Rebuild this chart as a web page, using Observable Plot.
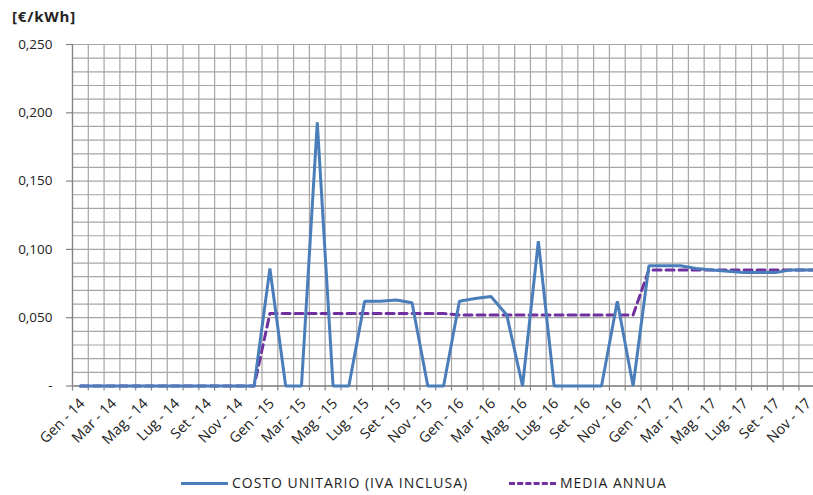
<!DOCTYPE html>
<html><head><meta charset="utf-8">
<script src="https://cdn.jsdelivr.net/npm/d3@7"></script>
<script src="https://cdn.jsdelivr.net/npm/@observablehq/plot@0.6"></script>
<style>
body{margin:0;background:#fff;overflow:hidden;}
#wrap{position:relative;width:813px;height:495px;overflow:hidden;font-family:"Open Sans",Lato,sans-serif;color:#222;}
#chart{position:absolute;left:0;top:0;}
#title{position:absolute;left:12px;top:6px;font-weight:bold;font-size:15px;letter-spacing:0.8px;}
.leg{position:absolute;top:473px;font-size:14px;letter-spacing:1px;line-height:20px;white-space:nowrap;display:flex;align-items:center;}
.sw{display:inline-block;width:47px;height:0;margin-right:4px;}
</style></head>
<body>
<div id="wrap">
<div id="chart"></div>
<div id="title">[€/kWh]</div>
<div class="leg" style="left:181px"><span class="sw" style="border-top:3px solid #4a7ebb"></span>COSTO UNITARIO (IVA INCLUSA)</div>
<div class="leg" style="left:509px"><span class="sw" style="border-top:3px dashed #7030a0;width:47px;"></span>MEDIA ANNUA</div>
</div>
<script>
const monthNames = ["Gen","Feb","Mar","Apr","Mag","Giu","Lug","Ago","Set","Ott","Nov","Dic"];
const years = ["14","15","16","17"];
const months = years.flatMap(y => monthNames.map(m => `${m} - ${y}`));

const costo = [
  0,0,0,0,0,0,0,0,0,0,0,0,
  0.086,0,0,0.193,0,0,0.062,0.062,0.063,0.061,0,0,
  0.062,0.064,0.0655,0.052,0,0.106,0,0,0,0,0.062,0,
  0.088,0.088,0.088,0.086,0.085,0.084,0.083,0.083,0.083,0.085,0.085,0.085
];
const media = [
  0,0,0,0,0,0,0,0,0,0,0,0,
  0.053,0.053,0.053,0.053,0.053,0.053,0.053,0.053,0.053,0.053,0.053,0.053,
  0.052,0.052,0.052,0.052,0.052,0.052,0.052,0.052,0.052,0.052,0.052,0.052,
  0.085,0.085,0.085,0.085,0.085,0.085,0.085,0.085,0.085,0.085,0.085,0.085
];
const yMajor = [0,0.05,0.10,0.15,0.20,0.25];
const yMinor = d3.range(0, 0.2501, 0.01);

const data = months.map((m,i)=>({i, m, costo: costo[i], media: media[i]}));
const bounds = d3.range(0, months.length + 1).map(i => i - 0.5);
const labelIdx = d3.range(0, months.length, 2);

const fmt = v => v === 0 ? "-" : v.toFixed(3).replace(".", ",");

const chart = Plot.plot({
  width: 813,
  height: 495,
  marginLeft: 72,
  marginTop: 44,
  marginBottom: 109.5,
  marginRight: 0,
  style: {fontFamily: "'Open Sans', Lato, sans-serif", fontSize: "13.5px", color: "#222", background: "transparent", overflow: "hidden"},
  x: {type: "linear", domain: [-0.5, months.length - 0.5], range: [72, 830], axis: null},
  y: {domain: [0, 0.25], axis: null},
  marks: [
    Plot.ruleY(yMinor, {stroke: "#a6a6a6", strokeWidth: 1.2}),
    Plot.ruleX(bounds, {y1: 0, y2: 0.25, stroke: "#a6a6a6", strokeWidth: 1.2}),
    Plot.ruleX([bounds[0]], {y1: 0, y2: 0.25, stroke: "#868686", strokeWidth: 1.3}),
    Plot.ruleY([0], {stroke: "#868686", strokeWidth: 1.3}),
    Plot.ruleX(bounds, {y1: 0, y2: -0.0037, stroke: "#868686", strokeWidth: 1.2}),
    Plot.ruleY(yMajor, {x1: -0.5, x2: -0.88, stroke: "#868686", strokeWidth: 1.2}),
    Plot.text(yMajor, {x: -0.5, y: d => d, text: fmt, textAnchor: "end", dx: -20, fill: "#222"}),
    Plot.text(labelIdx, {x: d => d, y: 0, text: d => months[d], rotate: -45, textAnchor: "end", dx: 2, dy: 15, fill: "#222", fontSize: 14.5}),
    Plot.line(data, {x: "i", y: "media", stroke: "#7030a0", strokeWidth: 3, strokeDasharray: "8,5"}),
    Plot.line(data, {x: "i", y: "costo", stroke: "#4a7ebb", strokeWidth: 3, strokeLinejoin: "miter"})
  ]
});
document.getElementById("chart").appendChild(chart);
</script>
</body></html>
